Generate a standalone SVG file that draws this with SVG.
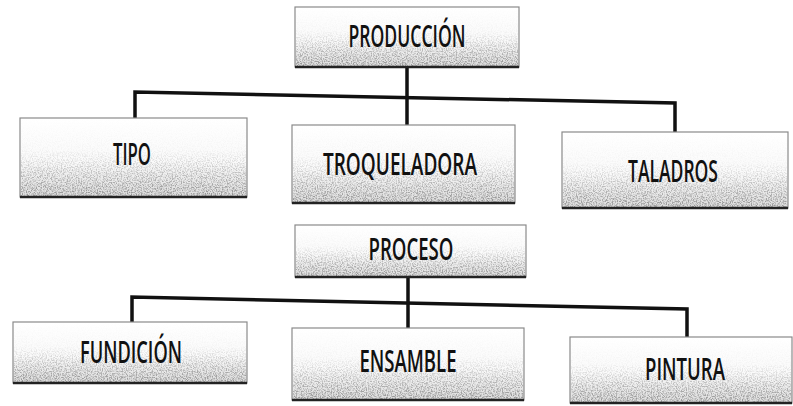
<svg xmlns="http://www.w3.org/2000/svg" width="793" height="406" viewBox="0 0 793 406">
<style>
.box{fill:url(#g);stroke:#8a8a8a;stroke-width:1.2}
.noise{filter:url(#speck);mask:url(#fade)}
.bot{stroke:#222;stroke-width:2.5;fill:none}
.lbl{font-family:"Open Sans","Liberation Sans",sans-serif;font-size:30px;font-weight:600;fill:#111;text-anchor:middle}
.con{stroke:#111;stroke-width:3.5;fill:none;stroke-linejoin:miter}
</style>
<defs>
<linearGradient id="g" x1="0" y1="0" x2="0" y2="1">
<stop offset="0" stop-color="#ffffff"/>
<stop offset="0.55" stop-color="#fafafa"/>
<stop offset="1" stop-color="#dcdcdc"/>
</linearGradient>
<linearGradient id="fg" x1="0" y1="0" x2="0" y2="1">
<stop offset="0" stop-color="#000"/>
<stop offset="0.4" stop-color="#111"/>
<stop offset="1" stop-color="#fff"/>
</linearGradient>
<mask id="fade" maskContentUnits="objectBoundingBox">
<rect x="0" y="0" width="1" height="1" fill="url(#fg)"/>
</mask>
<filter id="speck" x="0" y="0" width="1" height="1">
<feTurbulence type="fractalNoise" baseFrequency="0.8" numOctaves="2" seed="3"/>
<feColorMatrix type="matrix" values="0 0 0 0 0.3  0 0 0 0 0.3  0 0 0 0 0.3  3.4 0 0 0 -1.4"/>
<feComposite in2="SourceGraphic" operator="in"/>
</filter>
</defs>
<g id="connectors">
<path class="con" d="M135,120 L135,92 L675,103 L675,132"/>
<path class="con" d="M407,67 L407,125"/>
<path class="con" d="M132,322 L132,297 L687,309 L687,337"/>
<path class="con" d="M408,277 L408,328"/>
</g>
<g id="produccion">
<rect class="box" x="295" y="7" width="224" height="60"/>
<rect class="noise" x="296" y="8" width="222" height="58" fill="#000"/>
<line class="bot" x1="295" y1="67" x2="519" y2="67"/>
<text class="lbl" x="407" y="47" textLength="117" lengthAdjust="spacingAndGlyphs">PRODUCCIÓN</text>
</g>
<g id="tipo">
<rect class="box" x="20" y="118" width="227" height="79"/>
<rect class="noise" x="21" y="119" width="225" height="77" fill="#000"/>
<line class="bot" x1="20" y1="197" x2="247" y2="197"/>
<text class="lbl" x="132" y="165" textLength="38" lengthAdjust="spacingAndGlyphs">TIPO</text>
</g>
<g id="troqueladora">
<rect class="box" x="292" y="125" width="223" height="78"/>
<rect class="noise" x="293" y="126" width="221" height="76" fill="#000"/>
<line class="bot" x1="292" y1="203" x2="515" y2="203"/>
<text class="lbl" x="400" y="175" textLength="154" lengthAdjust="spacingAndGlyphs">TROQUELADORA</text>
</g>
<g id="taladros">
<rect class="box" x="562" y="132" width="226" height="76"/>
<rect class="noise" x="563" y="133" width="224" height="74" fill="#000"/>
<line class="bot" x1="562" y1="208" x2="788" y2="208"/>
<text class="lbl" x="673" y="182" textLength="90" lengthAdjust="spacingAndGlyphs">TALADROS</text>
</g>
<g id="proceso">
<rect class="box" x="295" y="225" width="231" height="52"/>
<rect class="noise" x="296" y="226" width="229" height="50" fill="#000"/>
<line class="bot" x1="295" y1="277" x2="526" y2="277"/>
<text class="lbl" x="411" y="260" textLength="85" lengthAdjust="spacingAndGlyphs">PROCESO</text>
</g>
<g id="fundicion">
<rect class="box" x="13" y="322" width="234" height="61"/>
<rect class="noise" x="14" y="323" width="232" height="59" fill="#000"/>
<line class="bot" x1="13" y1="383" x2="247" y2="383"/>
<text class="lbl" x="131" y="363" textLength="102" lengthAdjust="spacingAndGlyphs">FUNDICIÓN</text>
</g>
<g id="ensamble">
<rect class="box" x="292" y="328" width="232" height="72"/>
<rect class="noise" x="293" y="329" width="230" height="70" fill="#000"/>
<line class="bot" x1="292" y1="400" x2="524" y2="400"/>
<text class="lbl" x="408" y="372" textLength="97" lengthAdjust="spacingAndGlyphs">ENSAMBLE</text>
</g>
<g id="pintura">
<rect class="box" x="570" y="337" width="222" height="66"/>
<rect class="noise" x="571" y="338" width="220" height="64" fill="#000"/>
<line class="bot" x1="570" y1="403" x2="792" y2="403"/>
<text class="lbl" x="685" y="380" textLength="80" lengthAdjust="spacingAndGlyphs">PINTURA</text>
</g>
</svg>
